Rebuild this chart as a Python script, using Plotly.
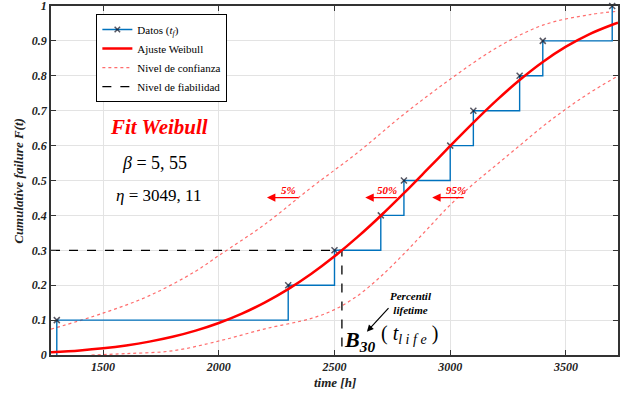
import plotly.graph_objects as go

# ---------------- data ----------------
failure_times = [1300, 2300, 2500, 2700, 2800, 3000, 3100, 3300, 3400, 3700]
failure_cdf = [0.1, 0.2, 0.3, 0.4, 0.5, 0.6, 0.7, 0.8, 0.9, 1.0]

fit_t = [1275, 1400, 1500, 1600, 1700, 1800, 1900, 2000, 2100, 2200, 2300, 2400, 2500,
         2600, 2700, 2800, 2900, 3000, 3100, 3200, 3300, 3400, 3500, 3600, 3700, 3725]
fit_F = [0.0079, 0.0132, 0.0193, 0.0275, 0.0383, 0.0522, 0.0699, 0.0918, 0.1186, 0.1508,
         0.1887, 0.2327, 0.2827, 0.3383, 0.3990, 0.4637, 0.5310, 0.5990, 0.6659, 0.7295,
         0.7880, 0.8397, 0.8835, 0.9190, 0.9464, 0.9522]

upper_t = [1275, 1500, 1700, 1900, 2000, 2200, 2400, 2600, 2800, 3000, 3200, 3400, 3600, 3725]
upper_F = [0.074, 0.12, 0.17, 0.24, 0.285, 0.375, 0.48, 0.58, 0.69, 0.79, 0.88, 0.945, 0.975, 0.985]

lower_t = [1450, 1600, 1800, 2000, 2200, 2400, 2500, 2600, 2700, 2800, 2900, 3000, 3100,
           3200, 3300, 3400, 3500, 3600, 3725]
lower_F = [0.0, 0.004, 0.012, 0.04, 0.075, 0.105, 0.13, 0.17, 0.225, 0.29, 0.36, 0.43, 0.49,
           0.545, 0.60, 0.655, 0.705, 0.75, 0.80]

reliability_level = 0.3
b30_time = 2532
x_range = [1275, 3725]

x_ticks = [1500, 2000, 2500, 3000, 3500]
y_ticks = [0, 0.1, 0.2, 0.3, 0.4, 0.5, 0.6, 0.7, 0.8, 0.9, 1]
y_tick_labels = ["0", "0.1", "0.2", "0.3", "0.4", "0.5", "0.6", "0.7", "0.8", "0.9", "1"]

beta_text = "<i>β</i> = 5, 55"
eta_text = "<i>η</i> = 3049, 11"

SERIF = "Liberation Serif"
RED = "#ff0000"
BLUE = "#0072BD"

# ---------------- figure ----------------
fig = go.Figure()

# confidence bounds
fig.add_trace(go.Scatter(x=upper_t, y=upper_F, mode="lines", line_shape="spline",
                         line=dict(color="rgba(255,60,60,0.75)", width=1.2, dash="dot"),
                         name="Nivel de confianza", legendrank=3))
fig.add_trace(go.Scatter(x=lower_t, y=lower_F, mode="lines", line_shape="spline",
                         line=dict(color="rgba(255,60,60,0.75)", width=1.2, dash="dot"),
                         name="Nivel de confianza", showlegend=False))

# reliability level dashed lines
fig.add_trace(go.Scatter(x=[x_range[0], b30_time, b30_time],
                         y=[reliability_level, reliability_level, 0],
                         mode="lines", line=dict(color="black", width=1.3, dash="dash"),
                         name="Nivel de fiabilidad", legendrank=4))

# data stairs
stairs_x = [failure_times[0]] + failure_times
stairs_y = [0] + failure_cdf
sizes = [0] + [6] * len(failure_times)
fig.add_trace(go.Scatter(x=stairs_x, y=stairs_y, mode="lines+markers", line_shape="hv",
                         line=dict(color=BLUE, width=1.4), cliponaxis=False,
                         marker=dict(symbol="x-thin", size=sizes,
                                     line=dict(width=1.5, color="#111122"), color="#111122"),
                         name="Datos (<i>t<sub>f</sub></i>)", legendrank=1))

# Weibull fit
fig.add_trace(go.Scatter(x=fit_t, y=fit_F, mode="lines", line_shape="spline",
                         line=dict(color=RED, width=2.5),
                         name="Ajuste Weibull", legendrank=2))

bi = dict(family=SERIF, weight="bold", style="italic")

annotations = [
    dict(x=1743, y=0.653, text="Fit Weibull", showarrow=False,
         font=dict(size=21, color=RED, **bi)),
    dict(x=1722, y=0.550, text=beta_text, showarrow=False,
         font=dict(family=SERIF, size=18, color="black")),
    dict(x=1741, y=0.456, text=eta_text, showarrow=False,
         font=dict(family=SERIF, size=17, color="black")),
    dict(x=2301, y=0.473, text="5%", showarrow=False, font=dict(size=11, color=RED, **bi)),
    dict(x=2728, y=0.473, text="50%", showarrow=False, font=dict(size=11, color=RED, **bi)),
    dict(x=3026, y=0.473, text="95%", showarrow=False, font=dict(size=11, color=RED, **bi)),
    dict(x=2832, y=0.150, text="Percentil<br>lifetime", showarrow=False,
         font=dict(size=11, color="black", **bi)),
    dict(x=2608, y=0.040, text="<b><i>B</i></b><sub><b><i>30</i></b></sub>", showarrow=False,
         font=dict(family=SERIF, size=22, color="black")),
    dict(x=2825, y=0.058, text="( <i>t<sub>l i f e</sub></i> )", showarrow=False,
         font=dict(family=SERIF, size=20, color="black")),
]
# red arrows
for hx in [2208, 2633, 2922]:
    annotations.append(dict(x=hx, y=0.451, ax=33, ay=0, text="", showarrow=True,
                            arrowhead=2, arrowsize=1.3, arrowwidth=1.3, arrowcolor=RED))
# black arrow
annotations.append(dict(x=2640, y=0.0668, ax=23, ay=-25, text="", showarrow=True,
                        arrowhead=2, arrowsize=1.1, arrowwidth=1.2, arrowcolor="black"))
for a in annotations:
    a.setdefault("xref", "x")
    a.setdefault("yref", "y")
    a.setdefault("xanchor", "center")
    a.setdefault("yanchor", "middle")

# axis titles as annotations
annotations.append(dict(xref="paper", yref="paper", x=0.5, y=-0.0802, text="time [h]",
                        xanchor="center", yanchor="middle",
                        showarrow=False, font=dict(size=13, color="#222", **bi)))
annotations.append(dict(xref="paper", yref="paper", x=-0.0577, y=0.5, textangle=-90,
                        xanchor="center", yanchor="middle",
                        text="Cumulative failure F(t)", showarrow=False,
                        font=dict(size=13, color="#222", **bi)))

axis_common = dict(showline=True, linecolor="#333333", linewidth=1.5, mirror="ticks",
                   ticks="inside", ticklen=5, tickcolor="#333333", showgrid=True,
                   gridcolor="#e3e3e3", gridwidth=1, zeroline=False, automargin=False,
                   ticklabeloverflow="allow",
                   tickfont=dict(size=12, color="#222", **bi))

fig.update_layout(
    width=622, height=396,
    margin=dict(l=51, r=4, t=6, b=41),
    paper_bgcolor="white", plot_bgcolor="white",
    xaxis=dict(range=x_range, tickvals=x_ticks, **axis_common),
    yaxis=dict(range=[0, 1], tickvals=y_ticks, ticktext=y_tick_labels, **axis_common),
    legend=dict(x=0.080, y=0.977, xanchor="left", yanchor="top",
                bgcolor="white", bordercolor="black", borderwidth=1,
                font=dict(family=SERIF, size=11, color="black")),
    annotations=annotations,
    showlegend=True,
)

fig.write_html("out.html", config={"displayModeBar": False},
               post_script="document.body.style.margin='0';")
